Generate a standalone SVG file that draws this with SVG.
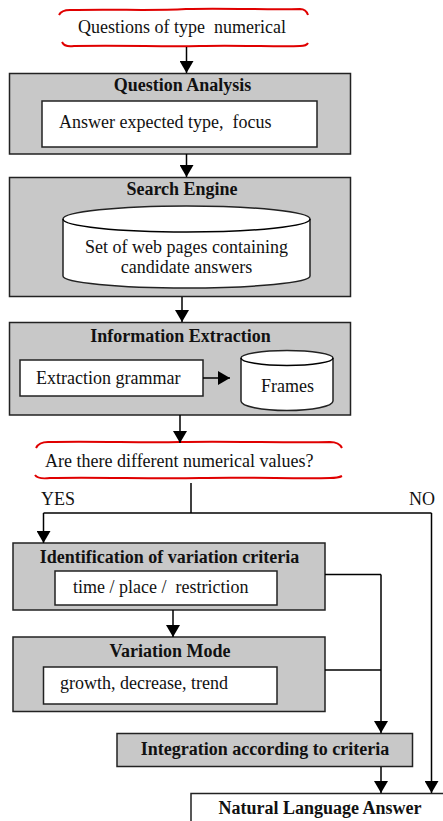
<svg xmlns="http://www.w3.org/2000/svg" width="443" height="821" viewBox="0 0 443 821" xml:space="preserve">
<defs>
<marker id="ah" viewBox="0 0 12 14" refX="12" refY="7" markerWidth="12" markerHeight="14" markerUnits="userSpaceOnUse" orient="auto">
<path d="M0,0 L12,7 L0,14 z" fill="#000"/>
</marker>
</defs>
<style>
text{font-family:"Liberation Serif","Times New Roman",serif;font-size:18px;fill:#111;white-space:pre}
.t{font-weight:bold;text-anchor:middle}
.box{fill:#c8c8c8;stroke:#222;stroke-width:1.5}
.in{fill:#fff;stroke:#222;stroke-width:1.5}
.red{fill:none;stroke:#e00000;stroke-width:2}
.c{fill:none;stroke:#000;stroke-width:1.5}
.ca{fill:none;stroke:#000;stroke-width:1.5;marker-end:url(#ah)}
</style>
<rect width="443" height="821" fill="#fff"/>

<g id="questions">
<path class="red" d="M59,15 C61,11 65,10 70,10 C120,9 150,11 186,9 C230,8 270,10 300,9 C305,9 307,12 308,15"/>
<path class="red" d="M62,42 C64,46 68,47 74,46 C130,45 160,47 200,46 C240,45 280,47 300,46 C304,46 307,45 308,43"/>
<text x="182" y="33" text-anchor="middle">Questions of type  numerical</text>
</g>

<g id="question-analysis">
<rect class="box" x="9.5" y="73.5" width="341" height="80.5"/>
<text class="t" x="182.5" y="91">Question Analysis</text>
<rect class="in" x="42" y="101" width="275" height="46"/>
<text x="59" y="128">Answer expected type,  focus</text>
</g>

<g id="search-engine">
<rect class="box" x="9.5" y="177.5" width="341" height="119"/>
<text class="t" x="182" y="195">Search Engine</text>
<path class="in" d="M63,219 A123.5,13 0 0 1 310,219 L310,276 A123.5,12 0 0 1 63,276 Z"/>
<path class="c" d="M63,219 A123.5,13 0 0 0 310,219"/>
<text x="186.5" y="253" text-anchor="middle">Set of web pages containing</text>
<text x="186.5" y="273" text-anchor="middle">candidate answers</text>
</g>

<g id="information-extraction">
<rect class="box" x="9.5" y="322.5" width="341" height="92.5"/>
<text class="t" x="180.5" y="342">Information Extraction</text>
<rect class="in" x="20" y="360" width="183" height="36"/>
<text x="36" y="384">Extraction grammar</text>
<path class="in" d="M241,358 A46,7.5 0 0 1 333,358 L333,401 A46,9.5 0 0 1 241,401 Z"/>
<path class="c" d="M241,358 A46,7.5 0 0 0 333,358"/>
<text x="287.5" y="392" text-anchor="middle">Frames</text>
</g>

<g id="different-values">
<path class="red" d="M36,448 C38,444 42,442 48,442 C100,441 140,443 180,442 C230,441 290,443 330,442 C336,442 340,444 342,448"/>
<path class="red" d="M35,475 C37,478 42,479 50,478 C100,477 150,479 200,478 C250,477 300,479 330,478 C336,478 340,477 342,476"/>
<text x="45" y="467">Are there different numerical values?</text>
</g>

<g id="identification">
<rect class="box" x="13" y="543" width="312" height="67"/>
<text class="t" x="169.5" y="563">Identification of variation criteria</text>
<rect class="in" x="55" y="571" width="222" height="34"/>
<text x="73" y="593">time / place /  restriction</text>
</g>

<g id="variation-mode">
<rect class="box" x="13" y="637" width="312" height="74.5"/>
<text class="t" x="170" y="657">Variation Mode</text>
<rect class="in" x="43.5" y="667" width="233.5" height="37"/>
<text x="60" y="689">growth, decrease, trend</text>
</g>

<g id="integration">
<rect class="box" x="117" y="733.5" width="295.5" height="33"/>
<text class="t" x="265" y="755">Integration according to criteria</text>
</g>

<g id="natural-language-answer">
<rect class="in" x="191" y="793.5" width="260" height="40"/>
<text class="t" x="320" y="814">Natural Language Answer</text>
</g>

<g id="connectors">
<line class="ca" x1="186.5" y1="47" x2="186.5" y2="73"/>
<line class="ca" x1="186.5" y1="154" x2="186.5" y2="177"/>
<line class="ca" x1="182" y1="297" x2="182" y2="322"/>
<line class="ca" x1="203" y1="378" x2="230" y2="378"/>
<line class="ca" x1="180" y1="415" x2="180" y2="443"/>
<polyline class="c" points="191,483 191,513"/>
<polyline class="c" points="43.5,513 431.5,513"/>
<polyline class="ca" points="43.5,513 43.5,543"/>
<polyline class="ca" points="431.5,513 431.5,793"/>
<line class="ca" x1="173" y1="610" x2="173" y2="637"/>
<polyline class="c" points="325,574.5 381,574.5"/>
<polyline class="c" points="325,670 381,670"/>
<polyline class="ca" points="381,574.5 381,733"/>
<line class="ca" x1="381" y1="767" x2="381" y2="793"/>
<text x="41" y="505">YES</text>
<text x="409" y="505">NO</text>
</g>
</svg>
